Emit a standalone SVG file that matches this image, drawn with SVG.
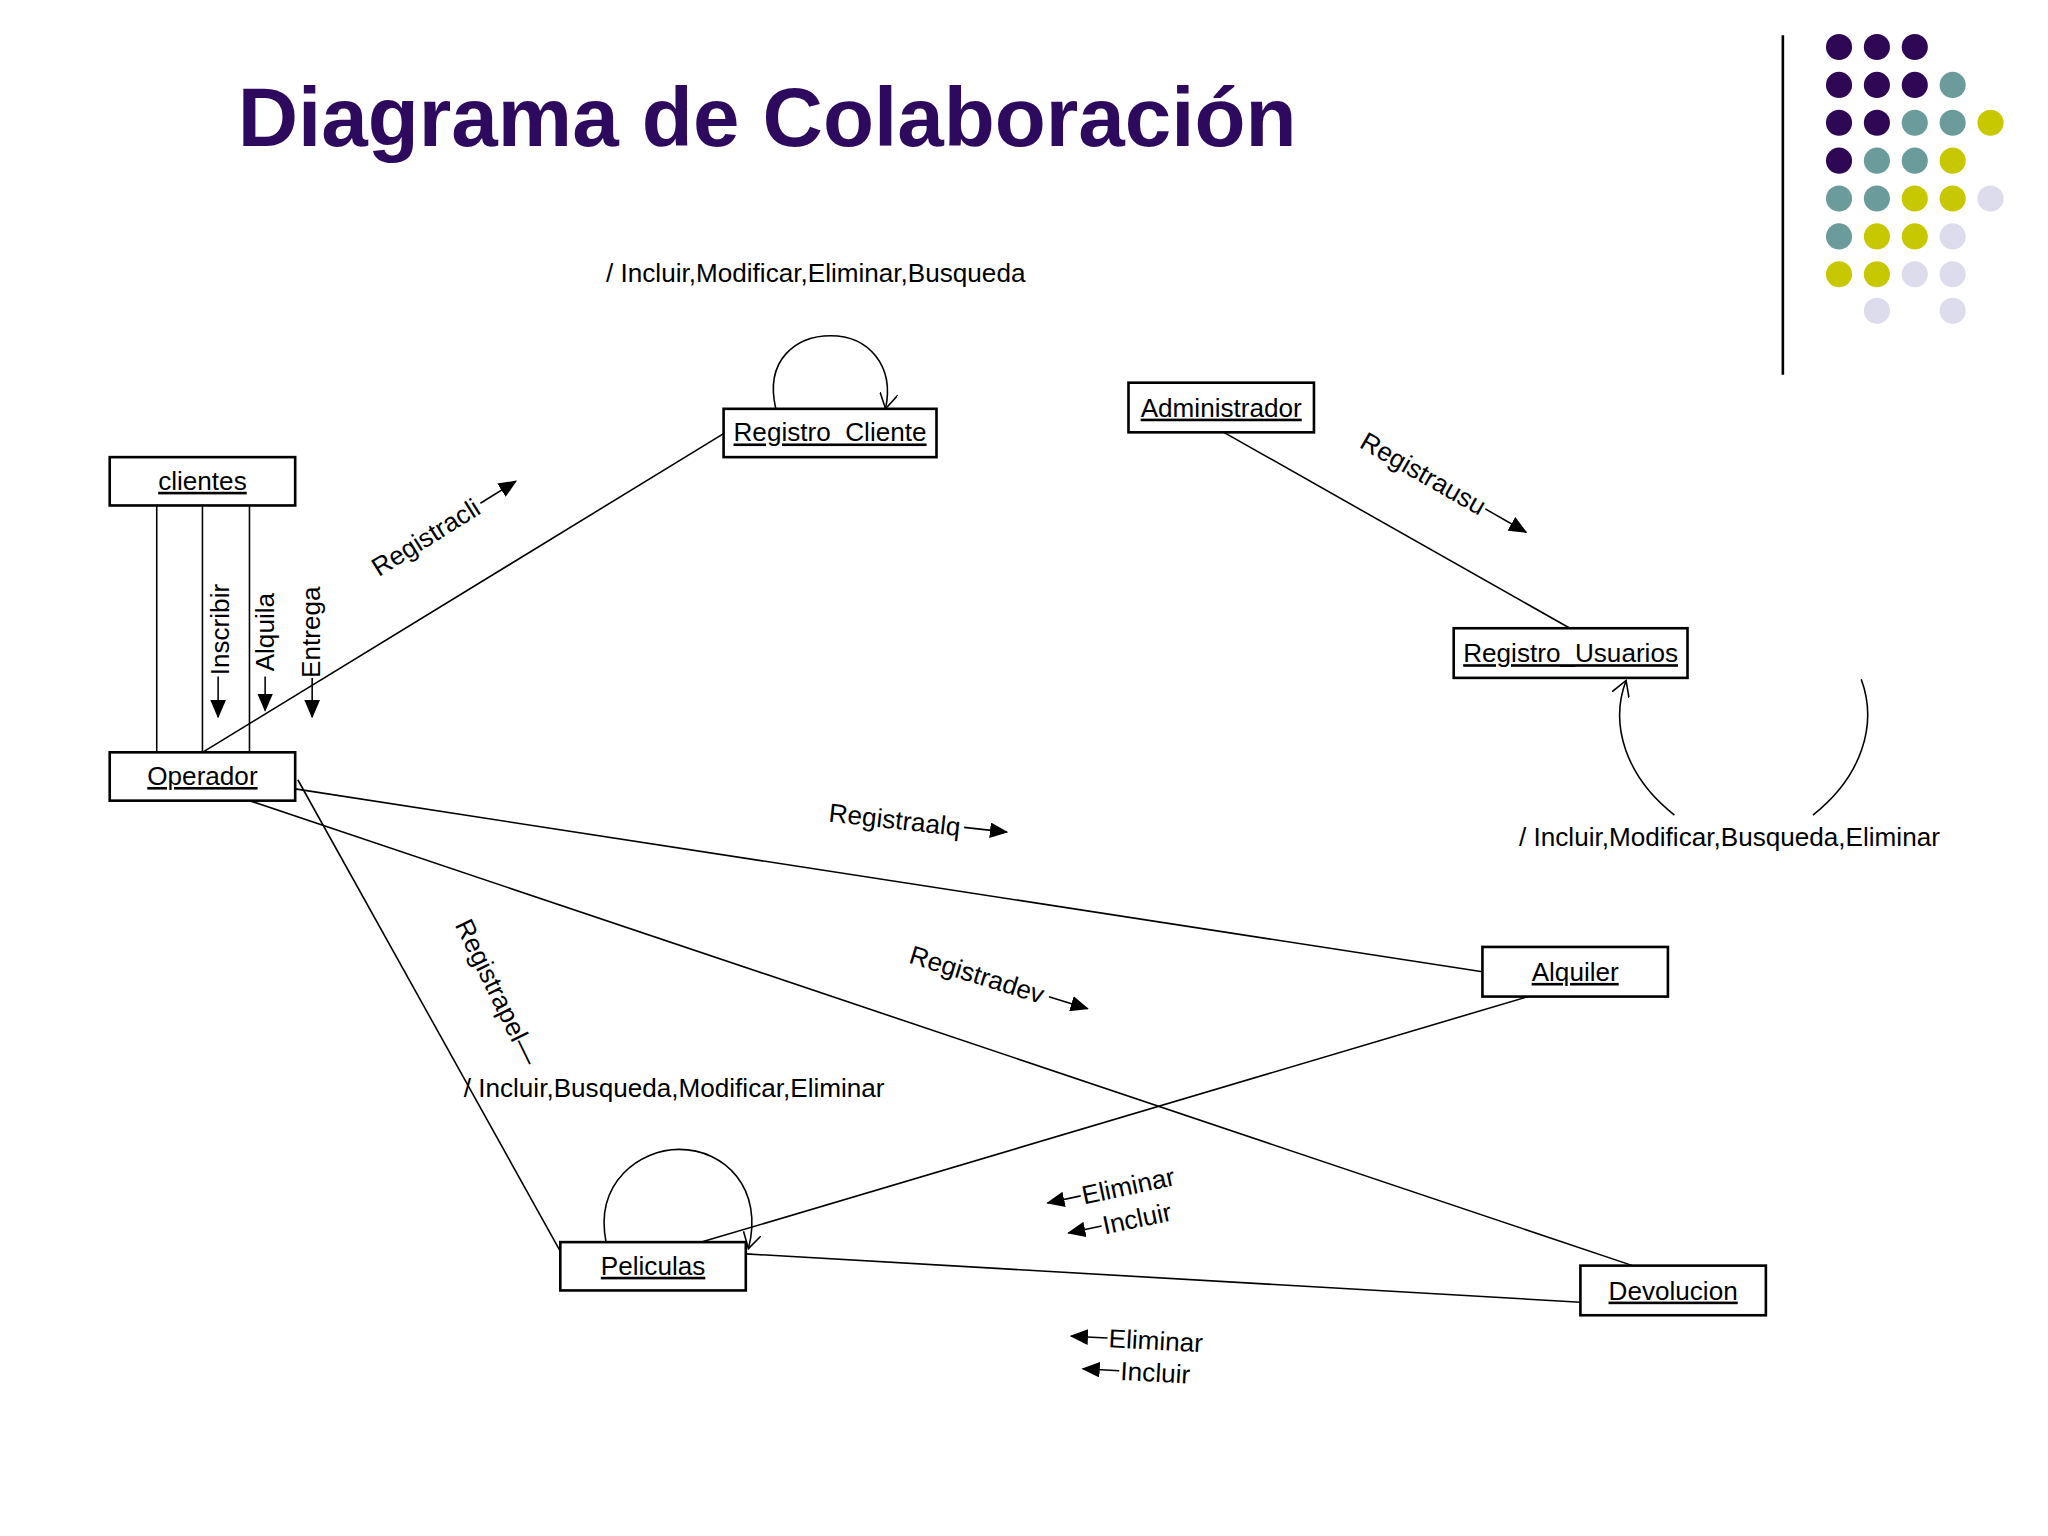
<svg xmlns="http://www.w3.org/2000/svg" width="2048" height="1536" viewBox="0 0 2048 1536">
<style>
.box{fill:#fff;stroke:#000;stroke-width:2}
.nt{font-family:"Liberation Sans",Arial,sans-serif;font-size:20px;text-decoration:underline;text-anchor:middle}
.lb{font-family:"Liberation Sans",Arial,sans-serif;font-size:20px}
.ln{stroke:#000;stroke-width:1.2;fill:none}
.p{fill:#2E0854}.t{fill:#6B9B9B}.y{fill:#C8C800}.v{fill:#DCDCEC}
</style>
<defs>
<marker id="fa" markerUnits="userSpaceOnUse" markerWidth="14" markerHeight="12" refX="13" refY="6" orient="auto"><path d="M0,0 L14,6 L0,12 Z" fill="#000"/></marker>
<marker id="oa" markerUnits="userSpaceOnUse" markerWidth="14" markerHeight="14" refX="12" refY="7" orient="auto"><path d="M0,0 L12,7 L0,14" fill="none" stroke="#000" stroke-width="1.2"/></marker>
</defs>
<rect width="2048" height="1536" fill="#fff"/>
<g transform="scale(1.30612)">
<text x="182" y="112" font-family="Liberation Sans,Arial,sans-serif" font-size="64" font-weight="bold" fill="#2E0A5E">Diagrama de Colaboración</text>
<line x1="1365" y1="27" x2="1365" y2="287" stroke="#000" stroke-width="2"/>
<g id="dots">
<circle class="p" cx="1408" cy="36" r="10"/><circle class="p" cx="1437" cy="36" r="10"/><circle class="p" cx="1466" cy="36" r="10"/>
<circle class="p" cx="1408" cy="65" r="10"/><circle class="p" cx="1437" cy="65" r="10"/><circle class="p" cx="1466" cy="65" r="10"/><circle class="t" cx="1495" cy="65" r="10"/>
<circle class="p" cx="1408" cy="94" r="10"/><circle class="p" cx="1437" cy="94" r="10"/><circle class="t" cx="1466" cy="94" r="10"/><circle class="t" cx="1495" cy="94" r="10"/><circle class="y" cx="1524" cy="94" r="10"/>
<circle class="p" cx="1408" cy="123" r="10"/><circle class="t" cx="1437" cy="123" r="10"/><circle class="t" cx="1466" cy="123" r="10"/><circle class="y" cx="1495" cy="123" r="10"/>
<circle class="t" cx="1408" cy="152" r="10"/><circle class="t" cx="1437" cy="152" r="10"/><circle class="y" cx="1466" cy="152" r="10"/><circle class="y" cx="1495" cy="152" r="10"/><circle class="v" cx="1524" cy="152" r="10"/>
<circle class="t" cx="1408" cy="181" r="10"/><circle class="y" cx="1437" cy="181" r="10"/><circle class="y" cx="1466" cy="181" r="10"/><circle class="v" cx="1495" cy="181" r="10"/>
<circle class="y" cx="1408" cy="210" r="10"/><circle class="y" cx="1437" cy="210" r="10"/><circle class="v" cx="1466" cy="210" r="10"/><circle class="v" cx="1495" cy="210" r="10"/>
<circle class="v" cx="1437" cy="238" r="10"/><circle class="v" cx="1495" cy="238" r="10"/>
</g>
<g id="connectors">
<line class="ln" x1="120" y1="387" x2="120" y2="576"/>
<line class="ln" x1="155" y1="387" x2="155" y2="576"/>
<line class="ln" x1="191" y1="387" x2="191" y2="576"/>
<line class="ln" x1="155" y1="576" x2="554" y2="332"/>
<line class="ln" x1="937" y1="331" x2="1202" y2="481"/>
<line class="ln" x1="226" y1="604" x2="1135" y2="744"/>
<line class="ln" x1="191" y1="613" x2="1250" y2="969"/>
<line class="ln" x1="228" y1="597" x2="429" y2="958"/>
<line class="ln" x1="1170" y1="763" x2="537" y2="951"/>
<line class="ln" x1="571" y1="960" x2="1210" y2="997"/>
<path class="ln" d="M594,313 C585,275 610,257 636,257 C665,257 685,280 678,313" marker-end="url(#oa)"/>
<path class="ln" d="M464,951 C455,905 490,880 520,880 C555,880 585,910 573,956" marker-end="url(#oa)"/>
<path class="ln" d="M1282,624 C1245,595 1232,555 1245,521" marker-end="url(#oa)"/>
<path class="ln" d="M1388,624 C1425,595 1438,555 1425,520"/>
</g>
<g id="labels">
<text class="lb" x="464" y="216">/ Incluir,Modificar,Eliminar,Busqueda</text>
<text class="lb" x="1163" y="648">/ Incluir,Modificar,Busqueda,Eliminar</text>
<text class="lb" x="355" y="840">/ Incluir,Busqueda,Modificar,Eliminar</text>
<g transform="translate(290,442) rotate(-31.9)"><text class="lb" x="0" y="0">Registracli</text><line class="ln" x1="96" y1="-7" x2="128" y2="-7" marker-end="url(#fa)"/></g>
<g transform="translate(1040,342) rotate(29.8)"><text class="lb" x="0" y="0">Registrausu</text><line class="ln" x1="108" y1="-7" x2="144" y2="-7" marker-end="url(#fa)"/></g>
<g transform="translate(634,629) rotate(6.3)"><text class="lb" x="0" y="0">Registraalq</text><line class="ln" x1="104" y1="-7" x2="137" y2="-7" marker-end="url(#fa)"/></g>
<g transform="translate(695,737) rotate(17.2)"><text class="lb" x="0" y="0">Registradev</text><line class="ln" x1="111" y1="-7" x2="142" y2="-7" marker-end="url(#fa)"/></g>
<g transform="translate(348,708) rotate(64)"><text class="lb" x="0" y="0">Registrapel—</text></g>
<text class="lb" transform="translate(175,517) rotate(-90)">Inscribir</text>
<line class="ln" x1="167" y1="518" x2="167" y2="549" marker-end="url(#fa)"/>
<text class="lb" transform="translate(210,514) rotate(-90)">Alquila</text>
<line class="ln" x1="203" y1="518" x2="203" y2="544" marker-end="url(#fa)"/>
<text class="lb" transform="translate(245,519) rotate(-90)">Entrega</text>
<line class="ln" x1="239" y1="519" x2="239" y2="549" marker-end="url(#fa)"/>
<g transform="translate(802,921) rotate(-12)"><line class="ln" x1="26" y1="0" x2="0" y2="0" marker-end="url(#fa)"/><text class="lb" x="27" y="7">Eliminar</text></g>
<g transform="translate(818,944) rotate(-12)"><line class="ln" x1="26" y1="0" x2="0" y2="0" marker-end="url(#fa)"/><text class="lb" x="27" y="7">Incluir</text></g>
<g transform="translate(820,1023) rotate(3)"><line class="ln" x1="28" y1="0" x2="0" y2="0" marker-end="url(#fa)"/><text class="lb" x="29" y="7">Eliminar</text></g>
<g transform="translate(829,1048) rotate(3)"><line class="ln" x1="28" y1="0" x2="0" y2="0" marker-end="url(#fa)"/><text class="lb" x="29" y="7">Incluir</text></g>
</g>
<g id="clientes"><rect class="box" x="84" y="350" width="142" height="37"/><text class="nt" x="155" y="375">clientes</text></g>
<g id="operador"><rect class="box" x="84" y="576" width="142" height="37"/><text class="nt" x="155" y="601">Operador</text></g>
<g id="registro_cliente"><rect class="box" x="554" y="313" width="163" height="37"/><text class="nt" x="635.5" y="338">Registro_Cliente</text></g>
<g id="administrador"><rect class="box" x="864" y="293" width="142" height="38"/><text class="nt" x="935" y="319">Administrador</text></g>
<g id="registro_usuarios"><rect class="box" x="1113" y="481" width="179" height="38"/><text class="nt" x="1202.5" y="507">Registro_Usuarios</text></g>
<g id="alquiler"><rect class="box" x="1135" y="725" width="142" height="38"/><text class="nt" x="1206" y="751">Alquiler</text></g>
<g id="peliculas"><rect class="box" x="429" y="951" width="142" height="37"/><text class="nt" x="500" y="976">Peliculas</text></g>
<g id="devolucion"><rect class="box" x="1210" y="969" width="142" height="38"/><text class="nt" x="1281" y="995">Devolucion</text></g>
</g>
</svg>
